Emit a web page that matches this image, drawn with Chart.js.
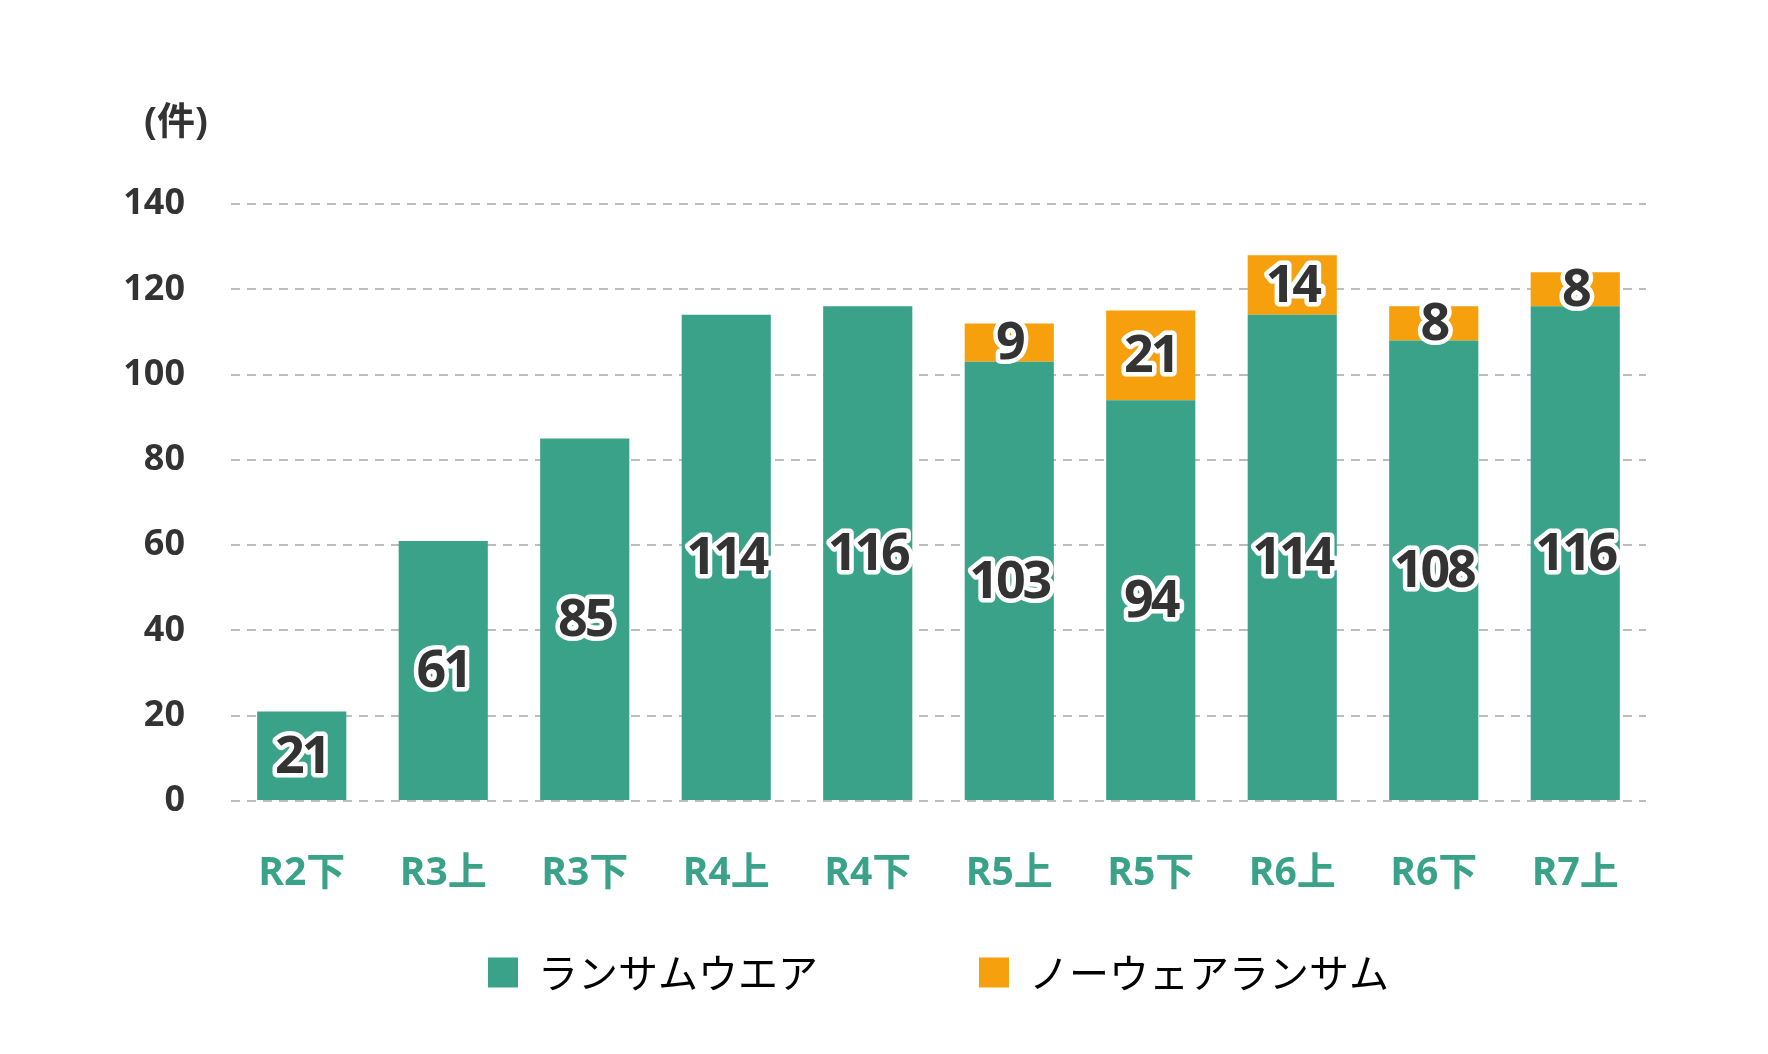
<!DOCTYPE html>
<html>
<head>
<meta charset="utf-8">
<script src="https://cdn.jsdelivr.net/npm/chart.js@4.4.1/dist/chart.umd.min.js"></script>
<style>
  html, body { margin: 0; padding: 0; background: #ffffff; }
  #wrap { width: 1768px; height: 1054px; }
</style>
</head>
<body>
<div id="wrap"><canvas id="c" width="1768" height="1054"></canvas></div>
<script>
const categories = ['R2下', 'R3上', 'R3下', 'R4上', 'R4下', 'R5上', 'R5下', 'R6上', 'R6下', 'R7上'];
const ransomware = [21, 61, 85, 114, 116, 103, 94, 114, 108, 116];
const noware = [null, null, null, null, null, 9, 21, 14, 8, 8];
const seriesNames = ['ランサムウエア', 'ノーウェアランサム'];
const yTicks = [0, 20, 40, 60, 80, 100, 120, 140];
const unitLabel = '(件)';

const GREEN = '#3ba28a';
const ORANGE = '#f5a00c';
const TEXT = '#333333';
const LATIN = '"Open Sans", "Noto Sans CJK JP", sans-serif';

const valueLabels = {
  id: 'valueLabels',
  afterDatasetsDraw(chart) {
    const ctx = chart.ctx;
    ctx.save();
    ctx.font = 'bold 52px ' + LATIN;
    ctx.textAlign = 'center';
    ctx.textBaseline = 'middle';
    try { ctx.letterSpacing = '-3px'; } catch (e) {}
    ctx.lineJoin = 'round';
    chart.data.datasets.forEach((ds, di) => {
      const meta = chart.getDatasetMeta(di);
      meta.data.forEach((el, i) => {
        const v = ds.data[i];
        if (v === null || v === undefined || v === 0) return;
        const x = el.x;
        const y = (el.y + el.base) / 2 + 2;
        const s = String(v);
        ctx.lineWidth = 9;
        ctx.strokeStyle = '#ffffff';
        ctx.strokeText(s, x, y);
        ctx.fillStyle = TEXT;
        ctx.fillText(s, x, y);
      });
    });
    ctx.restore();
  }
};

const unitPlugin = {
  id: 'unitPlugin',
  afterDraw(chart) {
    const ctx = chart.ctx;
    const a = chart.chartArea;
    ctx.save();
    ctx.font = 'bold 38px ' + LATIN;
    ctx.fillStyle = TEXT;
    ctx.textAlign = 'center';
    ctx.textBaseline = 'middle';
    ctx.fillText(unitLabel, a.left - 55, a.top - 81);
    ctx.restore();
  }
};

Chart.defaults.font.family = LATIN;

new Chart(document.getElementById('c'), {
  type: 'bar',
  data: {
    labels: categories,
    datasets: [
      { label: seriesNames[0], data: ransomware, backgroundColor: GREEN, borderWidth: 0, barPercentage: 0.63, categoryPercentage: 1.0 },
      { label: seriesNames[1], data: noware, backgroundColor: ORANGE, borderWidth: 0, barPercentage: 0.63, categoryPercentage: 1.0 }
    ]
  },
  options: {
    responsive: false,
    animation: false,
    devicePixelRatio: 1,
    layout: { padding: { top: 204, right: 122, bottom: 51.5, left: 0 } },
    scales: {
      x: {
        stacked: true,
        grid: { display: false, drawTicks: false },
        border: { display: false },
        ticks: { color: GREEN, font: { size: 39, weight: 'bold', family: LATIN }, padding: 49, maxRotation: 0 },
        afterFit(scale) { scale.height = 96; }
      },
      y: {
        stacked: true,
        min: 0,
        max: 140,
        afterBuildTicks(scale) { scale.ticks = yTicks.map(v => ({ value: v })); },
        grid: { color: '#bdbdbd', lineWidth: 2, drawTicks: false },
        border: { display: false, dash: [9, 7] },
        ticks: { color: TEXT, font: { size: 36, weight: 'bold', family: LATIN }, padding: 46 },
        afterFit(scale) { scale.width = 231; }
      }
    },
    plugins: {
      tooltip: { enabled: false },
      legend: {
        position: 'bottom',
        fullSize: false,
        labels: {
          boxWidth: 30,
          boxHeight: 30,
          padding: 55.5,
          color: TEXT,
          font: { size: 40, weight: 'normal', family: '"Noto Sans CJK JP", sans-serif' },
          generateLabels(chart) {
            const ds = chart.data.datasets;
            return [
              { text: ds[0].label, fillStyle: ds[0].backgroundColor, strokeStyle: ds[0].backgroundColor, lineWidth: 0, datasetIndex: 0 },
              { text: '', fillStyle: 'rgba(0,0,0,0)', strokeStyle: 'rgba(0,0,0,0)', lineWidth: 0, datasetIndex: -1 },
              { text: ds[1].label, fillStyle: ds[1].backgroundColor, strokeStyle: ds[1].backgroundColor, lineWidth: 0, datasetIndex: 1 }
            ];
          }
        }
      }
    }
  },
  plugins: [valueLabels, unitPlugin]
});
</script>
</body>
</html>
